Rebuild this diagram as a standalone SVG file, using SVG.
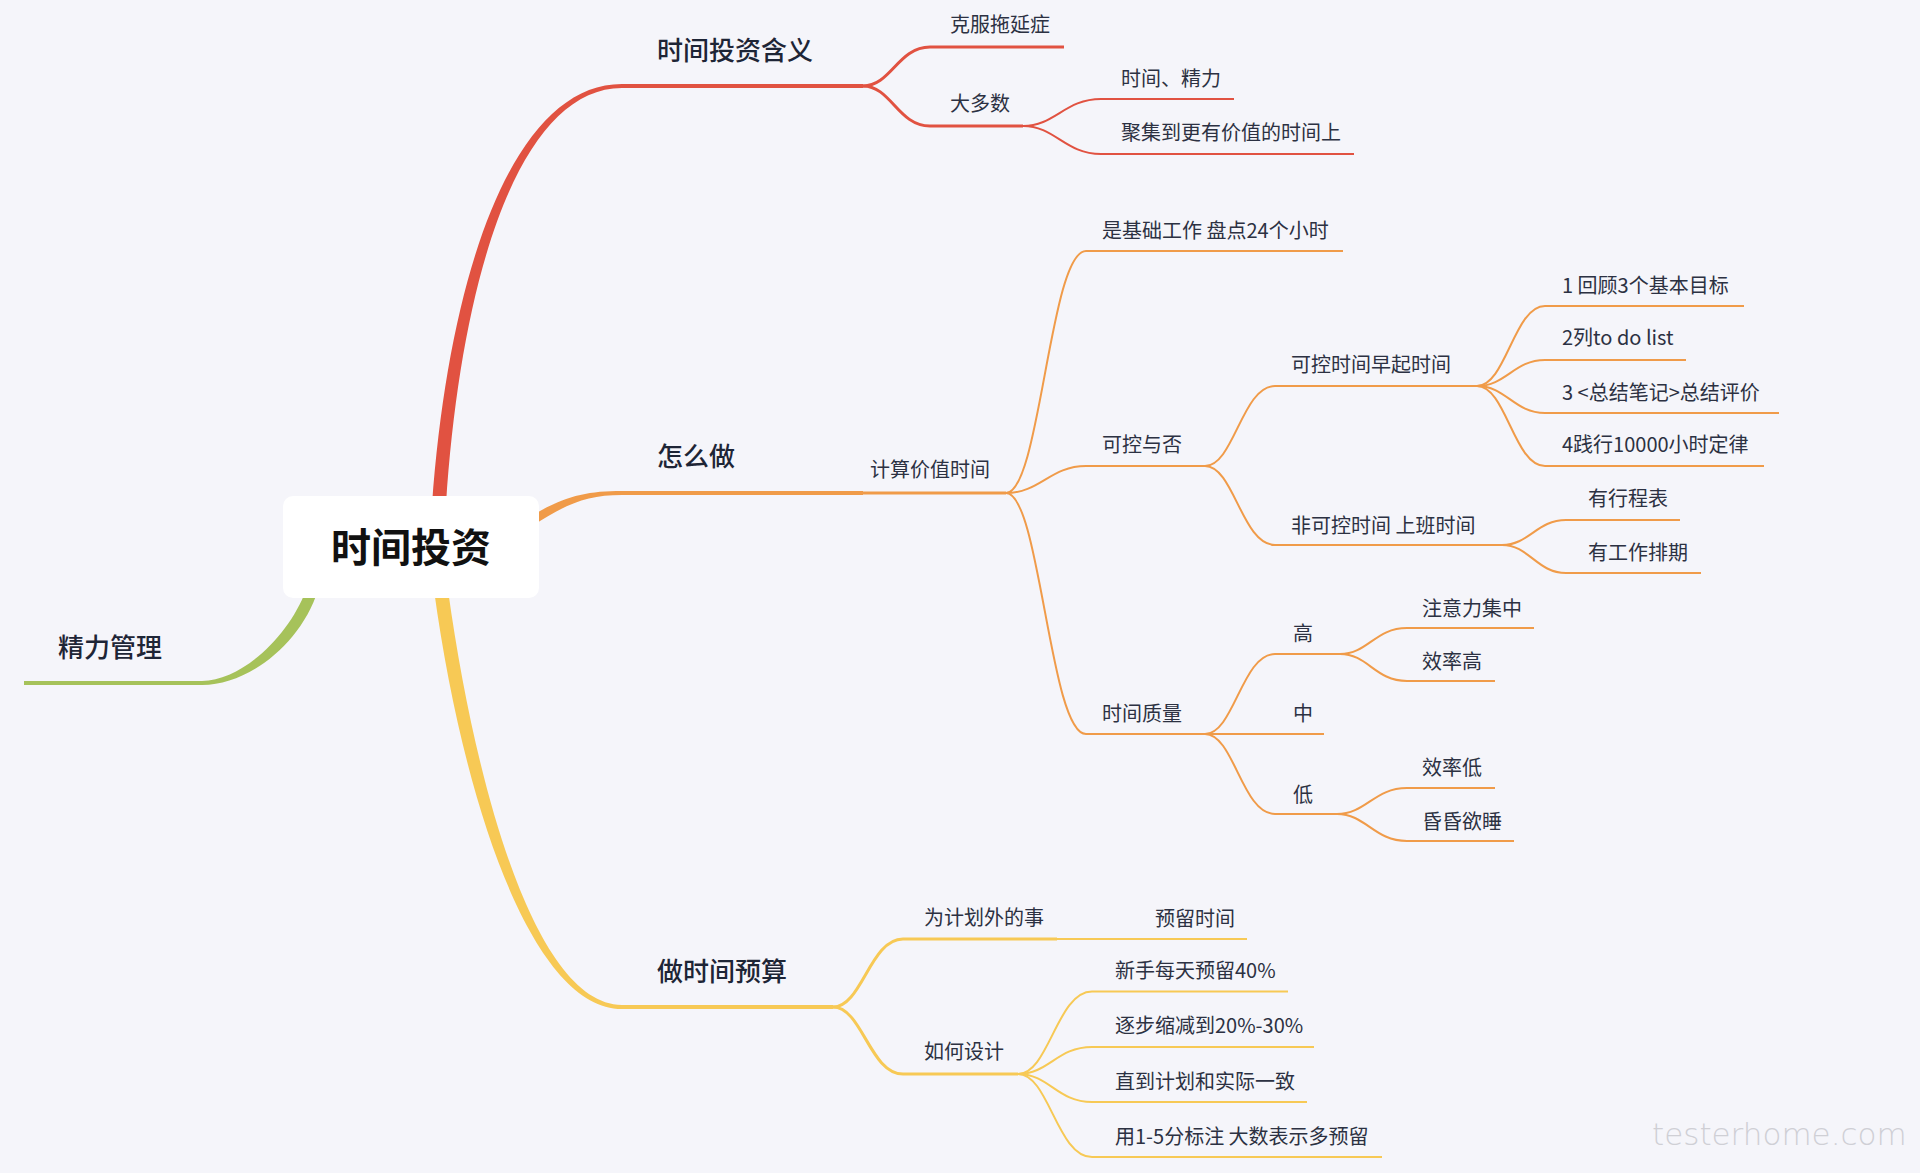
<svg xmlns="http://www.w3.org/2000/svg" width="1920" height="1173" viewBox="0 0 1920 1173">
<style>
text{font-family:"Noto Sans CJK SC","Noto Sans",sans-serif}
.c{font-size:40px;font-weight:600;fill:#111111}
.l1{font-size:26px;font-weight:500;fill:#1e2536}
.t{font-size:20px;font-weight:400;fill:#2c3142}
.r{stroke:#E15241;fill:none}
.o{stroke:#F09B49;fill:none}
.y{stroke:#F7C955;fill:none}
.g{stroke:#A6C25A;fill:none}
.w4{stroke-width:4}
.w3{stroke-width:3}
.w2{stroke-width:2}
.wm{font-family:"DejaVu Sans",sans-serif;font-size:31px;font-weight:200;fill:#cfcfd5}
</style>
<rect width="1920" height="1173" fill="#F5F5FA"/>

<g id="connectors">
  <!-- main tapered branches -->
  <path d="M432 505 C449 268 515 83.8 622 84 L622 88 C521 88.2 461 272 446 505 Z" fill="#E15241"/>
  <path d="M528 518 C563 496.5 585 491 622 491 L622 495 C587 495 567 503.5 532 526 Z" fill="#F09B49"/>
  <path d="M434 590 C463 802 532 1009.2 622 1009 L622 1005 C538 1004.8 477 798 448 590 Z" fill="#F7C955"/>
  <path d="M318 590 C301 644 248 685.2 202 685 L202 681 C242 680.8 289 636 306 590 Z" fill="#A6C25A"/>

  <!-- red -->
  <path class="r w3" d="M863 86 C891 86 898 47 930 47"/>
  <path class="r w3" d="M863 86 C891 86 898 126 930 126"/>
  <path class="r w2" d="M1023 126 C1055 126 1065 99 1101 99"/>
  <path class="r w2" d="M1023 126 C1055 126 1065 154 1101 154"/>

  <!-- orange -->
  <path class="o w3" d="M863 493 L1006 493"/>
  <path class="o w2" d="M1006 493 C1040 493 1050 251 1086 251"/>
  <path class="o w2" d="M1006 493 C1040 493 1050 466 1086 466"/>
  <path class="o w2" d="M1006 493 C1040 493 1050 734 1086 734"/>
  <path class="o w2" d="M1205 466 C1234 466 1242 386 1275 386"/>
  <path class="o w2" d="M1205 466 C1234 466 1242 545 1275 545"/>
  <path class="o w2" d="M1477 386 C1506 386 1514 306 1545 306"/>
  <path class="o w2" d="M1477 386 C1506 386 1514 360 1545 360"/>
  <path class="o w2" d="M1477 386 C1506 386 1514 413 1545 413"/>
  <path class="o w2" d="M1477 386 C1506 386 1514 466 1545 466"/>
  <path class="o w2" d="M1502 545 C1529 545 1537 520 1566 520"/>
  <path class="o w2" d="M1502 545 C1529 545 1537 573 1566 573"/>
  <path class="o w2" d="M1205 734 C1234 734 1242 654 1275 654"/>
  <path class="o w2" d="M1205 734 L1275 734"/>
  <path class="o w2" d="M1205 734 C1234 734 1242 814 1275 814"/>
  <path class="o w2" d="M1340 654 C1368 654 1375 628 1407 628"/>
  <path class="o w2" d="M1340 654 C1368 654 1375 681 1407 681"/>
  <path class="o w2" d="M1337 814 C1366 814 1374 788 1407 788"/>
  <path class="o w2" d="M1337 814 C1366 814 1374 841 1407 841"/>

  <!-- yellow -->
  <path class="y w3" d="M833 1007 C862 1007 870 939 903 939"/>
  <path class="y w3" d="M833 1007 C862 1007 870 1074 903 1074"/>
  <path class="y w2" d="M1057 939 L1140 939"/>
  <path class="y w2" d="M1018 1074 C1049 1074 1057 991.5 1092 991.5"/>
  <path class="y w2" d="M1018 1074 C1049 1074 1057 1047 1092 1047"/>
  <path class="y w2" d="M1018 1074 C1049 1074 1057 1102 1092 1102"/>
  <path class="y w2" d="M1018 1074 C1049 1074 1057 1157 1092 1157"/>
</g>

<g id="root">
  <rect x="283" y="496" width="256" height="102" rx="10" fill="#FFFFFF"/>
  <text class="c" x="411" y="562" text-anchor="middle">时间投资</text>
</g>

<!-- red branch -->
<g id="n-hanyi"><path class="r w4" d="M622 86 L863 86"/><text class="l1" x="657" y="60">时间投资含义</text></g>
<g id="n-kefu"><path class="r w3" d="M930 47 L1064 47"/><text class="t" x="950" y="32">克服拖延症</text></g>
<g id="n-daduoshu"><path class="r w3" d="M930 126 L1023 126"/><text class="t" x="950" y="111">大多数</text></g>
<g id="n-shijianjingli"><path class="r w2" d="M1101 99 L1234 99"/><text class="t" x="1121" y="86">时间、精力</text></g>
<g id="n-juji"><path class="r w2" d="M1101 154 L1354 154"/><text class="t" x="1121" y="140">聚集到更有价值的时间上</text></g>

<!-- orange branch -->
<g id="n-zenmezuo"><path class="o w4" d="M622 493 L863 493"/><text class="l1" x="657" y="466">怎么做</text></g>
<g id="n-jisuan"><text class="t" x="870" y="477">计算价值时间</text></g>
<g id="n-jichu"><path class="o w2" d="M1086 251 L1343 251"/><text class="t" x="1102" y="238">是基础工作 盘点24个小时</text></g>
<g id="n-kekong"><path class="o w2" d="M1086 466 L1205 466"/><text class="t" x="1102" y="452">可控与否</text></g>
<g id="n-zhiliang"><path class="o w2" d="M1086 734 L1205 734"/><text class="t" x="1102" y="721">时间质量</text></g>
<g id="n-kekongzaoqi"><path class="o w2" d="M1275 386 L1477 386"/><text class="t" x="1291" y="372">可控时间早起时间</text></g>
<g id="n-feikekong"><path class="o w2" d="M1275 545 L1502 545"/><text class="t" x="1291" y="533">非可控时间 上班时间</text></g>
<g id="n-1"><path class="o w2" d="M1545 306 L1744 306"/><text class="t" x="1562" y="293">1 回顾3个基本目标</text></g>
<g id="n-2"><path class="o w2" d="M1545 360 L1686 360"/><text class="t" x="1562" y="345">2列to do list</text></g>
<g id="n-3"><path class="o w2" d="M1545 413 L1779 413"/><text class="t" x="1562" y="400">3 &lt;总结笔记&gt;总结评价</text></g>
<g id="n-4"><path class="o w2" d="M1545 466 L1764 466"/><text class="t" x="1562" y="452">4践行10000小时定律</text></g>
<g id="n-xingcheng"><path class="o w2" d="M1566 520 L1680 520"/><text class="t" x="1588" y="506">有行程表</text></g>
<g id="n-paiqi"><path class="o w2" d="M1566 573 L1701 573"/><text class="t" x="1588" y="560">有工作排期</text></g>
<g id="n-gao"><path class="o w2" d="M1275 654 L1340 654"/><text class="t" x="1293" y="641">高</text></g>
<g id="n-zhong"><path class="o w2" d="M1275 734 L1324 734"/><text class="t" x="1293" y="721">中</text></g>
<g id="n-di"><path class="o w2" d="M1275 814 L1337 814"/><text class="t" x="1293" y="802">低</text></g>
<g id="n-zhuyili"><path class="o w2" d="M1407 628 L1534 628"/><text class="t" x="1422" y="616">注意力集中</text></g>
<g id="n-xiaolvgao"><path class="o w2" d="M1407 681 L1495 681"/><text class="t" x="1422" y="669">效率高</text></g>
<g id="n-xiaolvdi"><path class="o w2" d="M1407 788 L1495 788"/><text class="t" x="1422" y="775">效率低</text></g>
<g id="n-hunhun"><path class="o w2" d="M1407 841 L1514 841"/><text class="t" x="1422" y="829">昏昏欲睡</text></g>

<!-- yellow branch -->
<g id="n-yusuan"><path class="y w4" d="M622 1007 L833 1007"/><text class="l1" x="657" y="981">做时间预算</text></g>
<g id="n-jihuawai"><path class="y w3" d="M903 939 L1057 939"/><text class="t" x="924" y="925">为计划外的事</text></g>
<g id="n-yuliu"><path class="y w2" d="M1140 939 L1247 939"/><text class="t" x="1155" y="926">预留时间</text></g>
<g id="n-ruhe"><path class="y w3" d="M903 1074 L1018 1074"/><text class="t" x="924" y="1059">如何设计</text></g>
<g id="n-xinshou"><path class="y w2" d="M1092 991.5 L1288 991.5"/><text class="t" x="1115" y="978">新手每天预留40%</text></g>
<g id="n-zhubu"><path class="y w2" d="M1092 1047 L1314 1047"/><text class="t" x="1115" y="1033">逐步缩减到20%-30%</text></g>
<g id="n-zhidao"><path class="y w2" d="M1092 1102 L1307 1102"/><text class="t" x="1115" y="1089">直到计划和实际一致</text></g>
<g id="n-biaozhu"><path class="y w2" d="M1092 1157 L1382 1157"/><text class="t" x="1115" y="1144">用1-5分标注 大数表示多预留</text></g>

<!-- green branch -->
<g id="n-jingli"><path class="g w4" d="M24 683 L202 683"/><text class="l1" x="58" y="657">精力管理</text></g>

<text class="wm" x="1652" y="1145">testerhome.com</text>
</svg>
